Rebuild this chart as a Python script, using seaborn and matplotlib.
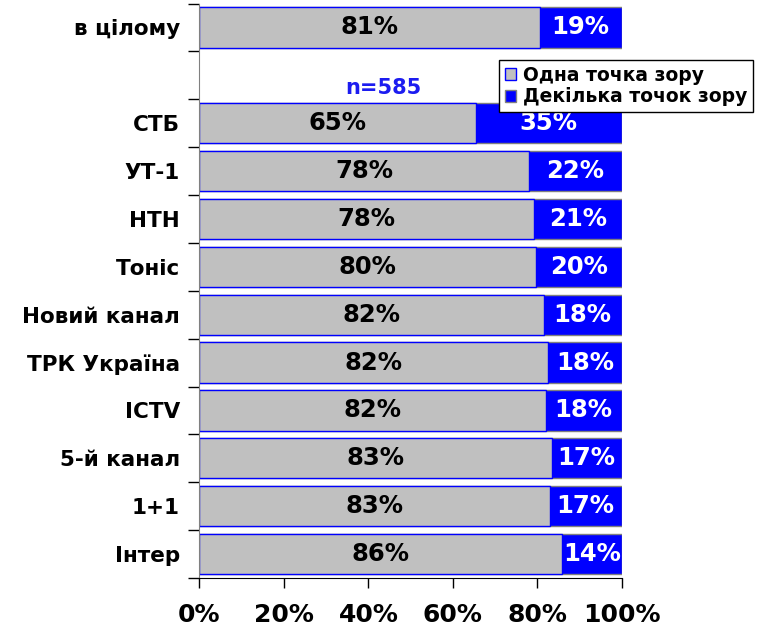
import numpy as np
import pandas as pd
import seaborn as sns
import matplotlib
matplotlib.use("Agg")
import matplotlib.pyplot as plt
from matplotlib.patches import Patch

# ---- data ----
order = ["в цілому", " ", "СТБ", "УТ-1", "НТН", "Тоніс", "Новий канал",
         "ТРК Україна", "ICTV", "5-й канал", "1+1", "Інтер"]
channels = ["в цілому", "СТБ", "УТ-1", "НТН", "Тоніс", "Новий канал",
            "ТРК Україна", "ICTV", "5-й канал", "1+1", "Інтер"]
one_view = [80.6, 65.4, 78.0, 79.2, 79.7, 81.5, 82.5, 82.0, 83.4, 82.9, 85.8]
several_views = [19.4, 34.6, 22.0, 20.8, 20.3, 18.5, 17.5, 18.0, 16.6, 17.1, 14.2]
one_labels = ["81%", "65%", "78%", "78%", "80%", "82%", "82%", "82%", "83%", "83%", "86%"]
several_labels = ["19%", "35%", "22%", "21%", "20%", "18%", "18%", "18%", "17%", "17%", "14%"]
x_ticks = [0, 20, 40, 60, 80, 100]
x_ticklabels = ["0%", "20%", "40%", "60%", "80%", "100%"]
series_names = ["Одна точка зору", "Декілька точок зору"]
n_text = "n=585"

GRAY = "#c0c0c0"
BLUE = "#0000ff"

sns.set_style("white")
plt.rcParams["font.family"] = ["DejaVu Sans"]
plt.rcParams["font.weight"] = "bold"
plt.rcParams["text.color"] = "black"
plt.rcParams["xtick.color"] = "black"
plt.rcParams["ytick.color"] = "black"
plt.rcParams["xtick.labelcolor"] = "black"
plt.rcParams["ytick.labelcolor"] = "black"

df = pd.DataFrame({"channel": channels, "one": one_view, "several": several_views})
df["total"] = df["one"] + df["several"]

fig = plt.figure(figsize=(7.61, 6.27), dpi=100)
ax = fig.add_axes([199.5 / 761, 1 - 578 / 627, (621.7 - 199.5) / 761, (578 - 3.5) / 627])

sns.barplot(data=df, y="channel", x="total", order=order, orient="h",
            color=BLUE, saturation=1, width=0.84, edgecolor="#808080",
            linewidth=1, ax=ax, errorbar=None)
sns.barplot(data=df, y="channel", x="one", order=order, orient="h",
            color=GRAY, saturation=1, width=0.84, edgecolor=BLUE,
            linewidth=1, ax=ax, errorbar=None)

pos = {c: i for i, c in enumerate(order)}
for c, o, s, lo, ls in zip(channels, one_view, several_views, one_labels, several_labels):
    y = pos[c]
    ax.text(o / 2, y, lo, ha="center", va="center", fontsize=17.5,
            fontweight="bold", color="black")
    ax.text(o + s / 2, y, ls, ha="center", va="center", fontsize=17.5,
            fontweight="bold", color="white")

ax.set_xlim(0, 100)
ax.set_ylim(len(order) - 0.5, -0.5)
ax.set_xticks(x_ticks)
ax.set_xticklabels(x_ticklabels, fontsize=18, fontweight="bold")
ax.set_yticks(range(len(order)))
ax.set_yticklabels(order, fontsize=15.5, fontweight="bold")
ax.set_yticks(np.arange(-0.5, len(order), 1.0), minor=True)
ax.tick_params(axis="y", which="both", left=True)
ax.tick_params(axis="x", which="major", bottom=True)
ax.tick_params(axis="y", which="major", length=0, pad=14)
ax.tick_params(axis="y", which="minor", length=8, width=1, color="black", direction="out")
ax.tick_params(axis="x", which="major", length=7, width=1, color="black",
               direction="out", pad=11)
ax.set_xlabel("")
ax.set_ylabel("")
for side in ["top", "right"]:
    ax.spines[side].set_visible(False)
ax.spines["left"].set_color("#808080")
ax.spines["bottom"].set_color("black")
ax.grid(False)

ax.text(0.435, 0.853, n_text, transform=ax.transAxes, ha="center", va="center",
        fontsize=15, fontweight="bold", color="#1c1cf0")

handles = [Patch(facecolor=GRAY, edgecolor=BLUE, linewidth=1, label=series_names[0]),
           Patch(facecolor=BLUE, edgecolor="#808080", linewidth=1, label=series_names[1])]
leg = fig.legend(handles=handles, loc="upper left",
                 bbox_to_anchor=(499 / 761, 1 - 60 / 627), bbox_transform=fig.transFigure,
                 frameon=True, fancybox=False, edgecolor="black", framealpha=1,
                 borderaxespad=0, handlelength=0.6, handleheight=0.6, handletextpad=0.4,
                 labelspacing=0.15, borderpad=0.3, prop={"size": 13.5, "weight": "bold"})
leg.get_frame().set_linewidth(1)

fig.savefig("out.png", dpi=100)
